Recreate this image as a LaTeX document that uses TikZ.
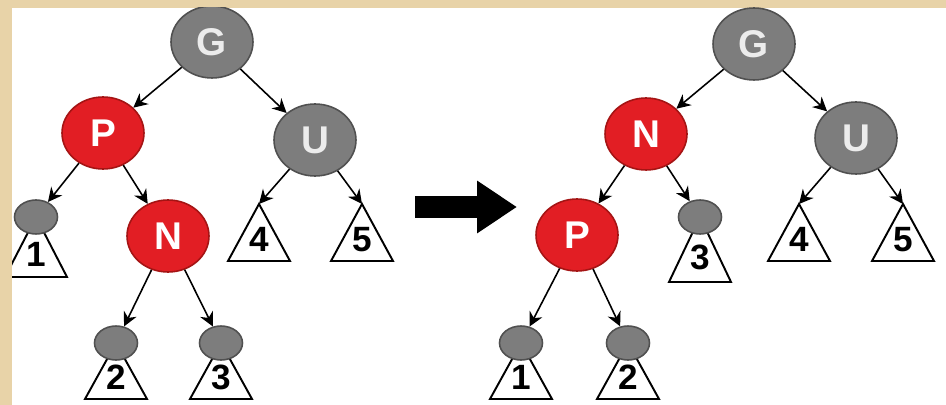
\documentclass[tikz,border=0pt]{standalone}
\usepackage{fontspec}
\setsansfont{Liberation Sans}
\usetikzlibrary{shapes.geometric,arrows.meta}
\definecolor{paper}{RGB}{232,211,168}
\definecolor{rbred}{RGB}{226,30,36}
\definecolor{rbredline}{RGB}{165,20,20}
\definecolor{rbgray}{RGB}{125,125,125}
\definecolor{rbgrayline}{RGB}{80,80,80}
\begin{document}
\begin{tikzpicture}[x=0.02cm,y=-0.02cm,
  big/.style={ellipse,minimum width=1.64cm,minimum height=1.44cm,inner sep=0pt,line width=0.9pt,font=\sffamily\bfseries\fontsize{22}{22}\selectfont},
  rednode/.style={big,fill=rbred,draw=rbredline,text=white},
  blacknode/.style={big,fill=rbgray,draw=rbgrayline,text=gray!15},
  leaf/.style={ellipse,minimum width=0.86cm,minimum height=0.68cm,inner sep=0pt,fill=rbgray,draw=rbgrayline,line width=0.9pt},
  tri/.style={draw=black,fill=white,line width=1.1pt},
  lbl/.style={inner sep=0pt,font=\sffamily\bfseries\fontsize{20}{20}\selectfont},
  link/.style={-{Stealth[length=8pt,width=8pt]},line width=0.9pt},
  fat/.style={-{Triangle[length=0.8cm,width=1cm]},line width=0.44cm}]
\fill[paper] (0,0) rectangle (946,405);
\fill[white] (12,8) rectangle (946,405);
\begin{scope}
\clip (12,8) rectangle (946,405);
\foreach \n/\x/\y/\h/\t in {L1/36/217/60/1,L2/116/343/56/2,L3/221/343/56/3,L4/259/204/57/4,L5/362/204/57/5,
  R1/521/343/56/1,R2/628/343/56/2,R3/700/217/65/3,R4/799/204/57/4,R5/903/204/57/5}{
  \coordinate (\n) at (\x,\y);
  \draw[tri] (\n) -- ++(-31,\h) -- ++(62,0) -- cycle;
  \node[lbl] (t\n) at (\x,\y+0.62*\h) {\t};
}
\node[blacknode] (lg) at (212,42) {G};
\node[rednode] (lp) at (103,133) {P};
\node[blacknode] (lu) at (315,140) {U};
\node[rednode] (ln) at (168,236) {N};
\node[leaf] (lb1) at (L1) {};
\node[leaf] (lb2) at (L2) {};
\node[leaf] (lb3) at (L3) {};
\draw[link] (lg) -- (lp);
\draw[link] (lg) -- (lu);
\draw[link] (lp) -- (lb1);
\draw[link] (lp) -- (ln);
\draw[link] (ln) -- (lb2);
\draw[link] (ln) -- (lb3);
\draw[link] (lu) -- (L4);
\draw[link] (lu) -- (L5);
\coordinate (from) at (415,207);
\coordinate (to) at (517,207);
\draw[fat] (from) -- (to);
\node[blacknode] (rg) at (754,44) {G};
\node[rednode] (rn) at (646,134) {N};
\node[blacknode] (ru) at (856,138) {U};
\node[rednode] (rp) at (577,235) {P};
\node[leaf] (rb1) at (R1) {};
\node[leaf] (rb2) at (R2) {};
\node[leaf] (rb3) at (R3) {};
\draw[link] (rg) -- (rn);
\draw[link] (rg) -- (ru);
\draw[link] (rn) -- (rp);
\draw[link] (rn) -- (rb3);
\draw[link] (rp) -- (rb1);
\draw[link] (rp) -- (rb2);
\draw[link] (ru) -- (R4);
\draw[link] (ru) -- (R5);
\end{scope}
\end{tikzpicture}
\end{document}
